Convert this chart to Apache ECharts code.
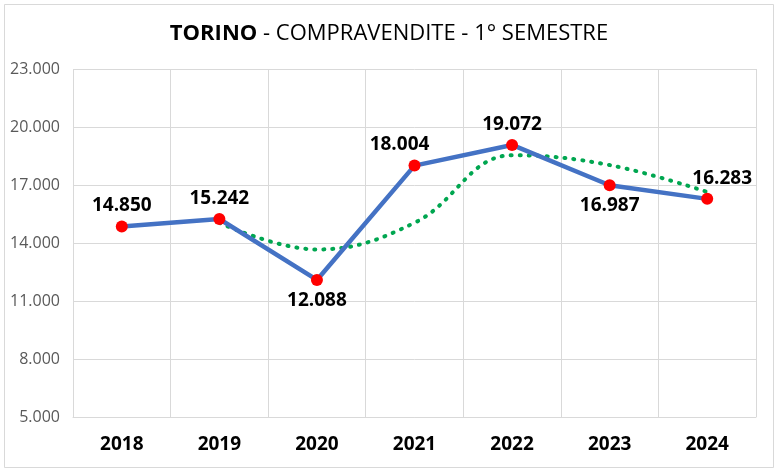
<!DOCTYPE html>
<html><head><meta charset="utf-8">
<script src="https://cdn.jsdelivr.net/npm/echarts@6/dist/echarts.min.js"></script>
<style>html,body{margin:0;padding:0;background:#fff}#c{width:778px;height:472px}</style>
</head><body><div id="c"></div>
<script>
const categories = ['2018','2019','2020','2021','2022','2023','2024'];
const values = [14850, 15242, 12088, 18004, 19072, 16987, 16283];
const trend = [null, 15046, 13665, 15046, 18538, 18030, 16635];
const yTicks = {min: 5000, max: 23000, interval: 3000};
const labelPos = ['top','top','bottom','top','top','bottom','top'];

const FONT = "'Open Sans',sans-serif";
const fmt = v => String(v).replace(/\B(?=(\d{3})+(?!\d))/g, '.');

const chart = echarts.init(document.getElementById('c'));
chart.setOption({
  backgroundColor: '#fff',
  animation: false,
  graphic: [{type:'rect', shape:{x:4.5,y:4.5,width:769,height:463}, style:{fill:'none', stroke:'#d9d9d9', lineWidth:1}}],
  title: {
    text: '{b|TORINO}{n| - COMPRAVENDITE - 1° SEMESTRE}',
    left: 'center', top: 18,
    textStyle: { fontWeight: 'normal', rich: {
      b: {fontFamily: FONT, fontSize: 22, fontWeight: 'bold', color: '#000'},
      n: {fontFamily: FONT, fontSize: 22, fontWeight: 'normal', color: '#000'}
    }}
  },
  grid: {left: 73, right: 22, top: 69, bottom: 55},
  xAxis: {
    type: 'category', data: categories, boundaryGap: true,
    axisLine: {show: true, lineStyle: {color: '#d9d9d9'}},
    axisTick: {show: false},
    splitLine: {show: true, interval: 0, lineStyle: {color: '#d9d9d9'}},
    axisLabel: {fontFamily: FONT, fontSize: 19, fontWeight: 'bold', color: '#000', margin: 18}
  },
  yAxis: {
    type: 'value', min: yTicks.min, max: yTicks.max, interval: yTicks.interval,
    axisLine: {show: false}, axisTick: {show: false},
    splitLine: {lineStyle: {color: '#d9d9d9'}},
    axisLabel: {fontFamily: FONT, fontSize: 16, color: '#595959', margin: 13, formatter: fmt}
  },
  series: [
    {
      type: 'line', data: trend, smooth: 0.4, symbol: 'none', connectNulls: false,
      lineStyle: {color: '#00a650', width: 4, type: [1, 8], cap: 'round'},
      z: 3
    },
    {
      type: 'line', data: values.map((v,i)=>({
        value: v,
        label: {position: labelPos[i], padding: i===3 ? [0,30,0,0] : (i===6 ? [0,0,0,30] : 0)}
      })),
      symbol: 'circle', symbolSize: 12,
      itemStyle: {color: '#ff0000'},
      lineStyle: {color: '#4472c4', width: 4.5},
      label: {show: true, fontFamily: FONT, fontSize: 19, fontWeight: 'bold', color: '#000', distance: 5,
        formatter: p => fmt(p.value)},
      z: 4
    }
  ]
});
</script></body></html>
